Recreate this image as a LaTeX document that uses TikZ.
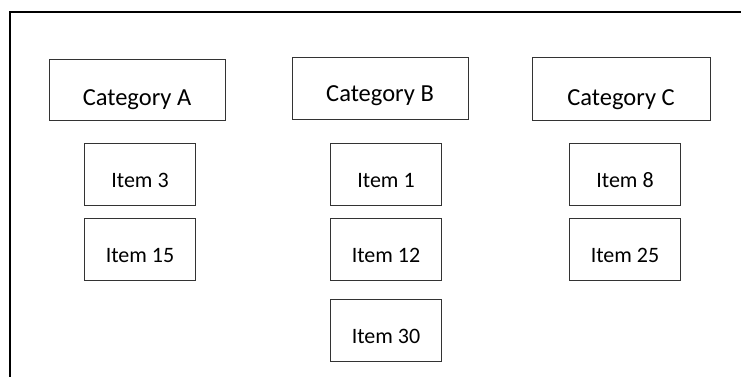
\documentclass[tikz,border=0pt]{standalone}
\usepackage{fontspec}
\setmainfont{Carlito}
\begin{document}
\begin{tikzpicture}[x=1pt,y=-1pt,
  box/.style={draw=black!80, line width=1pt, fill=white, inner sep=0pt},
  cattext/.style={anchor=base, font=\fontsize{24.5}{28}\selectfont, text=black},
  itemtext/.style={anchor=base, font=\fontsize{22}{25}\selectfont, text=black}]
  \useasboundingbox (0,0) rectangle (741,377);
  % open frame: top and left edges only
  \coordinate (ftl) at (10,12);
  \coordinate (ftr) at (741,12);
  \coordinate (fbl) at (10,377);
  \draw[line width=2pt, line cap=rect] (ftr) -- (ftl) -- (fbl);

  % category headers
  \node[box, minimum width=176pt, minimum height=61pt] (ca) at (137,90) {};
  \node[cattext] (cat) at (137,106) {Category A};
  \node[box, minimum width=176pt, minimum height=62pt] (cb) at (380,88.5) {};
  \node[cattext] (cbt) at (380,102) {Category B};
  \node[box, minimum width=178pt, minimum height=63pt] (cc) at (621,89) {};
  \node[cattext] (cct) at (621,106) {Category C};

  % items, column A
  \node[box, minimum width=111pt, minimum height=62pt] (i3) at (140,174) {};
  \node[itemtext] at (140,187) {Item 3};
  \node[box, minimum width=111pt, minimum height=62pt] (i15) at (140,249) {};
  \node[itemtext] at (140,262) {Item 15};

  % items, column B
  \node[box, minimum width=111pt, minimum height=62pt] (i1) at (386,174) {};
  \node[itemtext] at (386,187) {Item 1};
  \node[box, minimum width=111pt, minimum height=62pt] (i12) at (386,249) {};
  \node[itemtext] at (386,262) {Item 12};
  \node[box, minimum width=111pt, minimum height=62pt] (i30) at (386,330) {};
  \node[itemtext] at (386,343.5) {Item 30};

  % items, column C
  \node[box, minimum width=111pt, minimum height=62pt] (i8) at (625,174) {};
  \node[itemtext] at (625,187) {Item 8};
  \node[box, minimum width=111pt, minimum height=62pt] (i25) at (625,249) {};
  \node[itemtext] at (625,262) {Item 25};
\end{tikzpicture}
\end{document}
